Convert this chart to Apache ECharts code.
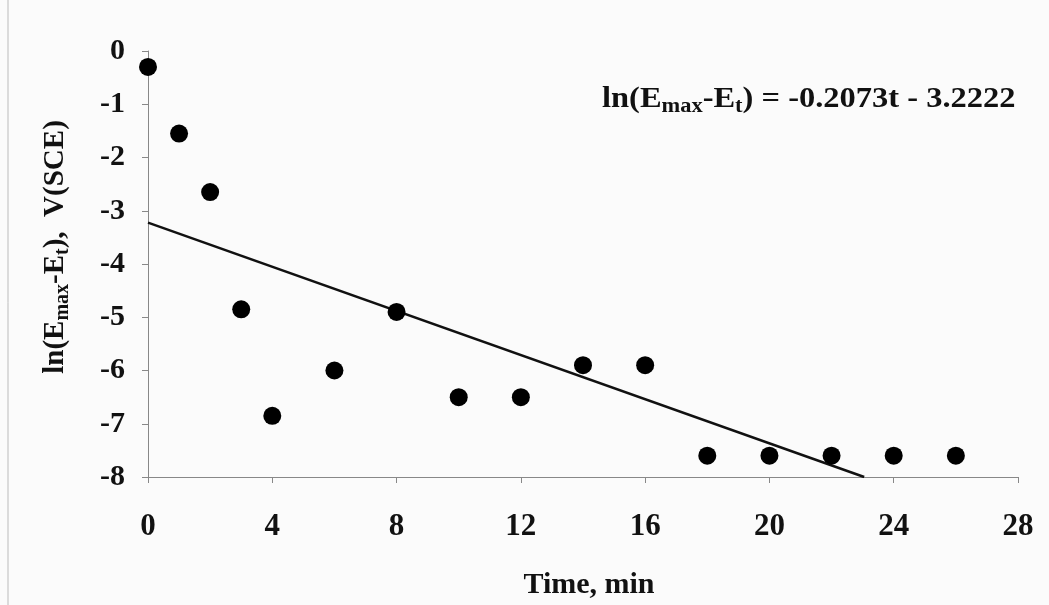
<!DOCTYPE html>
<html>
<head>
<meta charset="utf-8">
<script src="https://cdn.jsdelivr.net/npm/echarts@6/dist/echarts.min.js"></script>
<style>
html, body { margin: 0; padding: 0; background: #fbfbfb; }
#chart { width: 1049px; height: 605px; }
</style>
</head>
<body>
<div id="chart"></div>
<script>
// measured points, time (min) vs ln(Emax-Et)
var timeMin = [0, 1, 2, 3, 4, 6, 8, 10, 12, 14, 16, 18, 20, 22, 24, 26];
var lnValues = [-0.3, -1.55, -2.65, -4.85, -6.85, -6.0, -4.9, -6.5, -6.5, -5.9, -5.9, -7.6, -7.6, -7.6, -7.6, -7.6];
// trend line end points
var fitX = [0, 23.05];
var fitY = [-3.2222, -8];

var chart = echarts.init(document.getElementById('chart'));
var font = '"Liberation Serif", "Times New Roman", serif';

var points = timeMin.map(function (t, i) { return [t, lnValues[i]]; });
var fit = fitX.map(function (t, i) { return [t, fitY[i]]; });

var richText = {
    b: { fontFamily: font, fontWeight: 'bold', fontSize: 29, fill: '#111' },
    s: { fontFamily: font, fontWeight: 'bold', fontSize: 20, fill: '#111', padding: [14, 0, 0, 0] }
};

var option = {
    backgroundColor: '#fbfbfb',
    animation: false,
    grid: { left: 148, right: 31, top: 51, bottom: 128 },
    xAxis: {
        type: 'value',
        min: 0, max: 28, interval: 4,
        axisLine: { onZero: false, lineStyle: { color: '#888', width: 1 } },
        axisTick: { show: true, length: 6, lineStyle: { color: '#888' } },
        axisLabel: { fontFamily: font, fontWeight: 'bold', fontSize: 31, color: '#111', margin: 34 },
        splitLine: { show: false }
    },
    yAxis: {
        type: 'value',
        min: -8, max: 0, interval: 1,
        axisLine: { show: true, lineStyle: { color: '#888', width: 1 } },
        axisTick: { show: true, length: 6, lineStyle: { color: '#888' } },
        axisLabel: { fontFamily: font, fontWeight: 'bold', fontSize: 30, color: '#111', margin: 23 },
        splitLine: { show: false }
    },
    graphic: [
        {
            type: 'line',
            shape: { x1: 8, y1: 0, x2: 8, y2: 605 },
            style: { stroke: '#bbb', lineWidth: 1 }
        },
        {
            type: 'text',
            x: 589,
            y: 585,
            style: {
                text: 'Time, min',
                fontFamily: font, fontWeight: 'bold', fontSize: 30, fill: '#111',
                textAlign: 'center',
                textVerticalAlign: 'middle'
            }
        },
        {
            type: 'text',
            x: 56,
            y: 247,
            rotation: Math.PI / 2,
            style: {
                text: '{b|ln(E}{s|max}{b|-E}{s|t}{b|),  V(SCE)}',
                textAlign: 'center',
                textVerticalAlign: 'middle',
                rich: richText
            }
        },
        {
            type: 'text',
            x: 602,
            y: 100,
            scaleX: 1.12,
            style: {
                text: '{b|ln(E}{s|max}{b|-E}{s|t}{b|) = -0.2073t - 3.2222}',
                textAlign: 'left',
                textVerticalAlign: 'middle',
                rich: richText
            }
        }
    ],
    series: [
        {
            type: 'line',
            data: fit,
            showSymbol: false,
            lineStyle: { color: '#111', width: 2.5 },
            z: 2
        },
        {
            type: 'scatter',
            data: points,
            symbol: 'circle',
            symbolSize: 18,
            itemStyle: { color: '#000', opacity: 1 },
            z: 3
        }
    ]
};
chart.setOption(option);
</script>
</body>
</html>
